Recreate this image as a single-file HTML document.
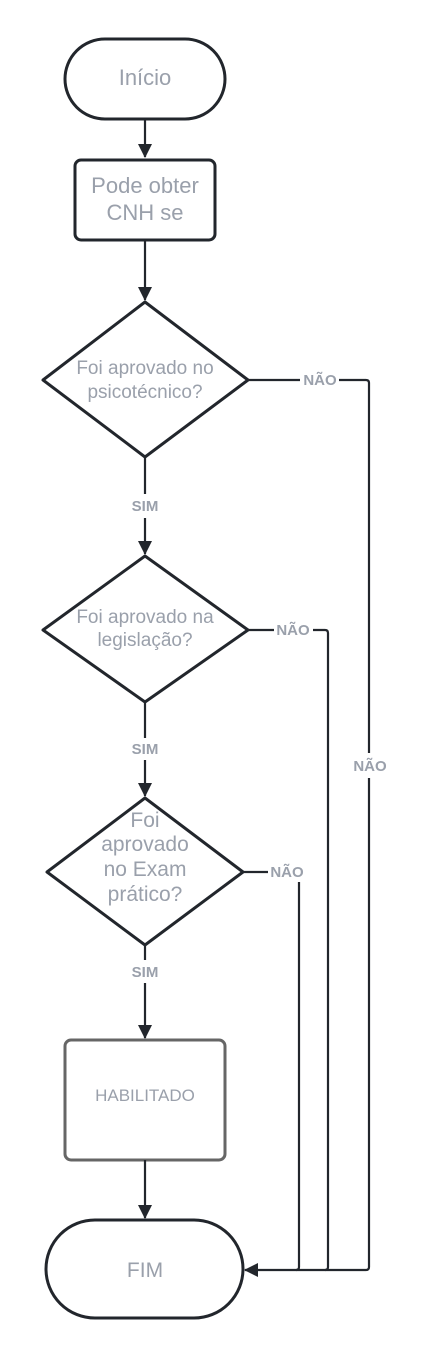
<!DOCTYPE html>
<html><head><style>body{margin:0;background:#fff}svg{display:block}</style></head><body>
<svg width="430" height="1360" xmlns="http://www.w3.org/2000/svg" font-family="Liberation Sans, sans-serif">
<defs><marker id="b" markerWidth="14" markerHeight="14" refX="13" refY="7" orient="auto" markerUnits="userSpaceOnUse"><path d="M0,0 L14,7 L0,14 z" fill="#22262c"/></marker></defs>
<g fill="none" stroke="#22262c" stroke-width="3">
<rect x="65" y="39" width="160" height="80" rx="40"/>
<rect x="75" y="160" width="140" height="80" rx="6"/>
<path d="M145,302 L248,380 L145,457 L43,380 Z" stroke-linejoin="round"/>
<path d="M145,556 L248,630 L145,702 L43,630 Z" stroke-linejoin="round"/>
<path d="M145,798 L243,872 L145,945 L47,872 Z" stroke-linejoin="round"/>
<rect x="65" y="1040" width="160" height="120" rx="6" stroke="#666"/>
<rect x="46" y="1220" width="197" height="98" rx="49"/>
</g>
<g fill="none" stroke="#22262c" stroke-width="2.2">
<path d="M145,119 V157" marker-end="url(#b)"/>
<path d="M145,240 V300" marker-end="url(#b)"/>
<path d="M145,518 V554" marker-end="url(#b)"/>
<path d="M145,457 V494"/>
<path d="M145,760 V796" marker-end="url(#b)"/>
<path d="M145,702 V738"/>
<path d="M145,983 V1038" marker-end="url(#b)"/>
<path d="M145,945 V960"/>
<path d="M145,1160 V1218" marker-end="url(#b)"/>
<path d="M248,380 H300 M339,380 H366 Q369,380 369,383 V753 M369,778 V1267 Q369,1270 366,1270 H245" marker-end="url(#b)"/>
<path d="M248,630 H274 M313,630 H325 Q328,630 328,633 V1267 Q328,1270 325,1270"/>
<path d="M243,872 H268 M299,882 V1267 Q299,1270 296,1270"/>
</g>
<g fill="#9aa0ab" text-anchor="middle">
<text x="145" y="85" font-size="22">Início</text>
<text x="145" y="193" font-size="22">Pode obter</text>
<text x="145" y="220" font-size="22">CNH se</text>
<text x="145" y="374" font-size="19">Foi aprovado no</text>
<text x="145" y="398" font-size="19">psicotécnico?</text>
<text x="145" y="623" font-size="19">Foi aprovado na</text>
<text x="145" y="646" font-size="19">legislação?</text>
<text x="145" y="827" font-size="21">Foi</text>
<text x="145" y="851" font-size="21">aprovado</text>
<text x="145" y="876" font-size="21">no Exam</text>
<text x="145" y="901" font-size="21">prático?</text>
<text x="145" y="1101" font-size="17">HABILITADO</text>
<text x="145" y="1277" font-size="21">FIM</text>
<g font-size="15" font-weight="bold">
<text x="145" y="511">SIM</text>
<text x="145" y="754">SIM</text>
<text x="145" y="977">SIM</text>
<text x="320" y="385">NÃO</text>
<text x="293" y="635">NÃO</text>
<text x="287" y="877">NÃO</text>
<text x="370" y="771">NÃO</text>
</g></g>
</svg>
</body></html>
